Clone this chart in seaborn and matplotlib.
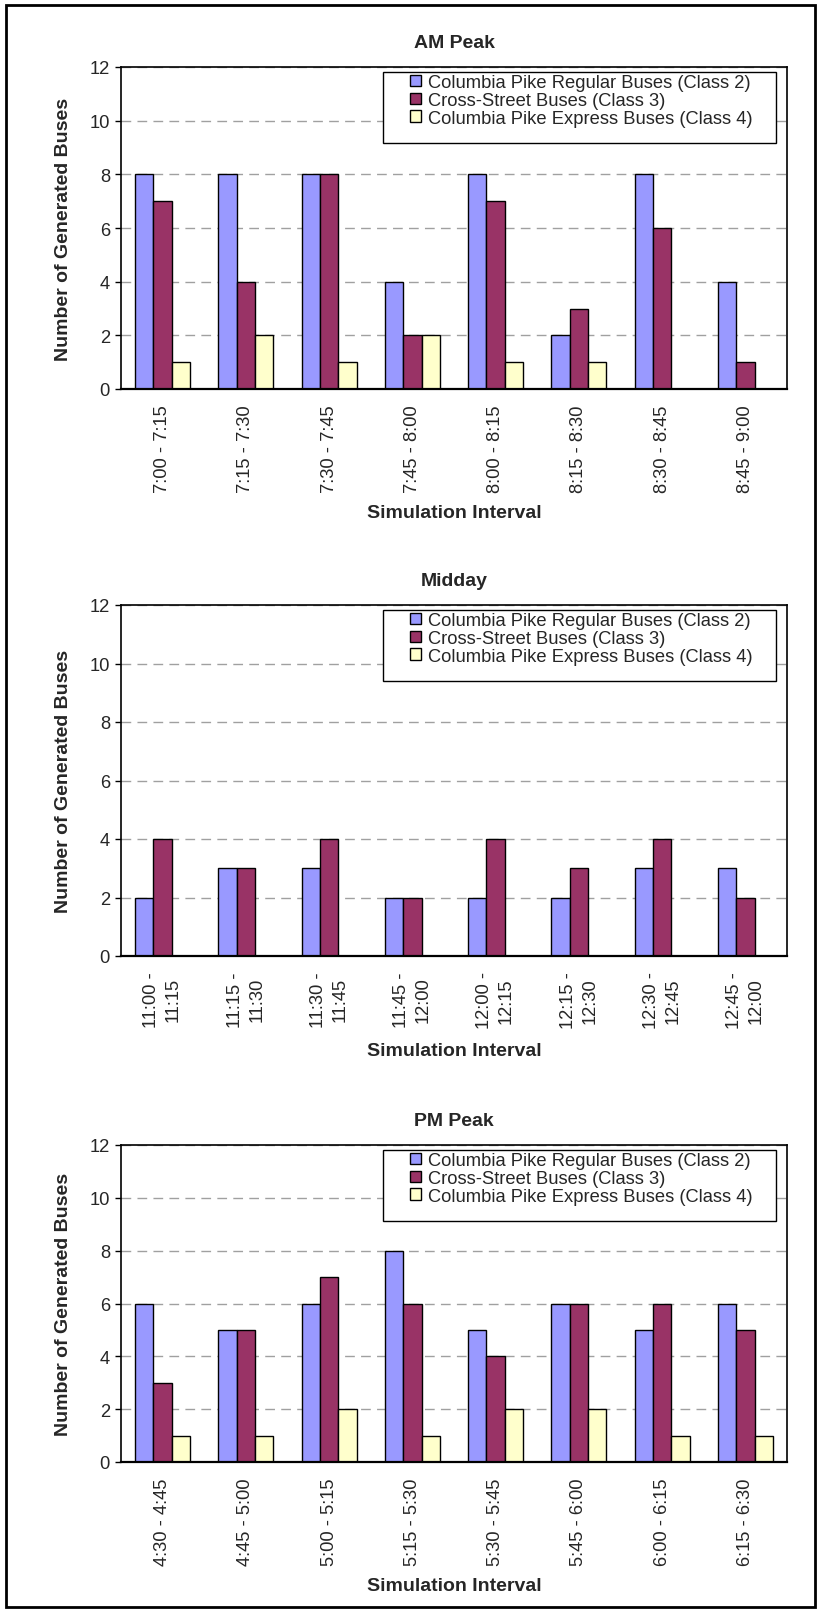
import pandas as pd
import matplotlib
matplotlib.use("Agg")
import matplotlib.pyplot as plt
from matplotlib.patches import Patch, Rectangle
import seaborn as sns

# Bus counts per 15-minute simulation interval
classes = ["Columbia Pike Regular Buses (Class 2)",
           "Cross-Street Buses (Class 3)",
           "Columbia Pike Express Buses (Class 4)"]
colors = ["#9999FF", "#993366", "#FFFFCC"]

am_intervals = ["7:00 - 7:15", "7:15 - 7:30", "7:30 - 7:45", "7:45 - 8:00",
                "8:00 - 8:15", "8:15 - 8:30", "8:30 - 8:45", "8:45 - 9:00"]
am_regular = [8, 8, 8, 4, 8, 2, 8, 4]
am_cross = [7, 4, 8, 2, 7, 3, 6, 1]
am_express = [1, 2, 1, 2, 1, 1, 0, 0]

md_intervals = ["11:00 -\n11:15", "11:15 -\n11:30", "11:30 -\n11:45", "11:45 -\n12:00",
                "12:00 -\n12:15", "12:15 -\n12:30", "12:30 -\n12:45", "12:45 -\n12:00"]
md_regular = [2, 3, 3, 2, 2, 2, 3, 3]
md_cross = [4, 3, 4, 2, 4, 3, 4, 2]
md_express = [0, 0, 0, 0, 0, 0, 0, 0]

pm_intervals = ["4:30 - 4:45", "4:45 - 5:00", "5:00 - 5:15", "5:15 - 5:30",
                "5:30 - 5:45", "5:45 - 6:00", "6:00 - 6:15", "6:15 - 6:30"]
pm_regular = [6, 5, 6, 8, 5, 6, 5, 6]
pm_cross = [3, 5, 7, 6, 4, 6, 6, 5]
pm_express = [1, 1, 2, 1, 2, 2, 1, 1]

sns.set_style("white")
plt.rcParams["font.family"] = ["Liberation Sans", "DejaVu Sans"]

W, H = 821, 1615
fig = plt.figure(figsize=(W / 100, H / 100), dpi=100)

# panel layout in pixels: (title, labels, series, axes top, axes bottom, xlabel y)
panels = [
    ("AM Peak", am_intervals, [am_regular, am_cross, am_express], 68, 390, 513),
    ("Midday", md_intervals, [md_regular, md_cross, md_express], 606, 957, 1052),
    ("PM Peak", pm_intervals, [pm_regular, pm_cross, pm_express], 1146, 1463, 1587),
]
left_px, right_px = 121, 787
fs = 13.2
fs_bold = 14

for title, intervals, series, top, bottom, xlab_y in panels:
    ax = fig.add_axes([left_px / W, 1 - bottom / H, (right_px - left_px) / W, (bottom - top) / H])
    h = bottom - top
    w = right_px - left_px

    rows = []
    for cls, vals in zip(classes, series):
        for iv, v in zip(intervals, vals):
            rows.append({"Interval": iv, "Class": cls, "Buses": v})
    df = pd.DataFrame(rows)

    sns.barplot(data=df, x="Interval", y="Buses", hue="Class", order=intervals,
                hue_order=classes, palette=colors, width=0.66, edgecolor="black",
                linewidth=1.0, saturation=1, legend=False, ax=ax)

    ax.set_ylim(0, 12)
    ax.set_xlim(-0.5, len(intervals) - 0.5)
    ax.set_yticks(range(0, 13, 2))
    ax.yaxis.grid(True, linestyle=(0, (7, 4.5)), color="#a0a0a0", linewidth=1)
    ax.set_axisbelow(True)
    for s in ax.spines.values():
        s.set_color("black")
        s.set_linewidth(1.2)
    ax.spines["bottom"].set_linewidth(1.6)

    ax.set_xticks(range(len(intervals)))
    ax.set_xticklabels(intervals, rotation=90, fontsize=fs, ha="center", va="top",
                       multialignment="center", linespacing=1.35)
    ax.set_xticks([i - 0.5 for i in range(len(intervals) + 1)], minor=True)
    ax.tick_params(axis="x", which="major", length=0, pad=11)
    ax.tick_params(axis="x", which="minor", length=5, width=1, direction="out", color="black")
    ax.tick_params(axis="y", length=4, width=1, direction="out", labelsize=fs, pad=4,
                   color="black", left=True)

    ax.set_xlabel("Simulation Interval", fontsize=fs_bold, fontweight="bold")
    ax.xaxis.set_label_coords(0.5, -(xlab_y - bottom) / h)
    ax.xaxis.label.set_va("center")
    ax.set_ylabel("Number of Generated Buses", fontsize=fs_bold, fontweight="bold")
    ax.yaxis.set_label_coords(-(left_px - 64) / w, 0.5)
    ax.yaxis.label.set_va("center")

    ax.text(0.5, 1 + 24 / h, title, transform=ax.transAxes, ha="center", va="center",
            fontsize=fs_bold, fontweight="bold")

    # legend box: frame drawn separately so the padding matches the original
    fx0, fx1 = (383 - left_px) / w, (776 - left_px) / w
    fy0, fy1 = 1 - 76 / h, 1 - 5 / h
    ax.add_patch(Rectangle((fx0, fy0), fx1 - fx0, fy1 - fy0, transform=ax.transAxes,
                           facecolor="white", edgecolor="black", linewidth=1,
                           zorder=4, clip_on=False))
    handles = [Patch(facecolor=c, edgecolor="black", linewidth=1) for c in colors]
    leg = ax.legend(handles, classes, loc="upper left",
                    bbox_to_anchor=((410 - left_px) / w, 1 - 7 / h), fontsize=fs,
                    frameon=False, borderpad=0, borderaxespad=0,
                    handlelength=0.62, handleheight=0.62, handletextpad=0.38,
                    labelspacing=0.05)
    leg.set_zorder(5)

# outer border around the whole page
fig.patches.append(Rectangle((6 / W, 1 - 1608 / H), (815 - 6) / W, (1608 - 6) / H,
                             transform=fig.transFigure, fill=False, edgecolor="black",
                             linewidth=2))

fig.savefig("out.png", dpi=100)
